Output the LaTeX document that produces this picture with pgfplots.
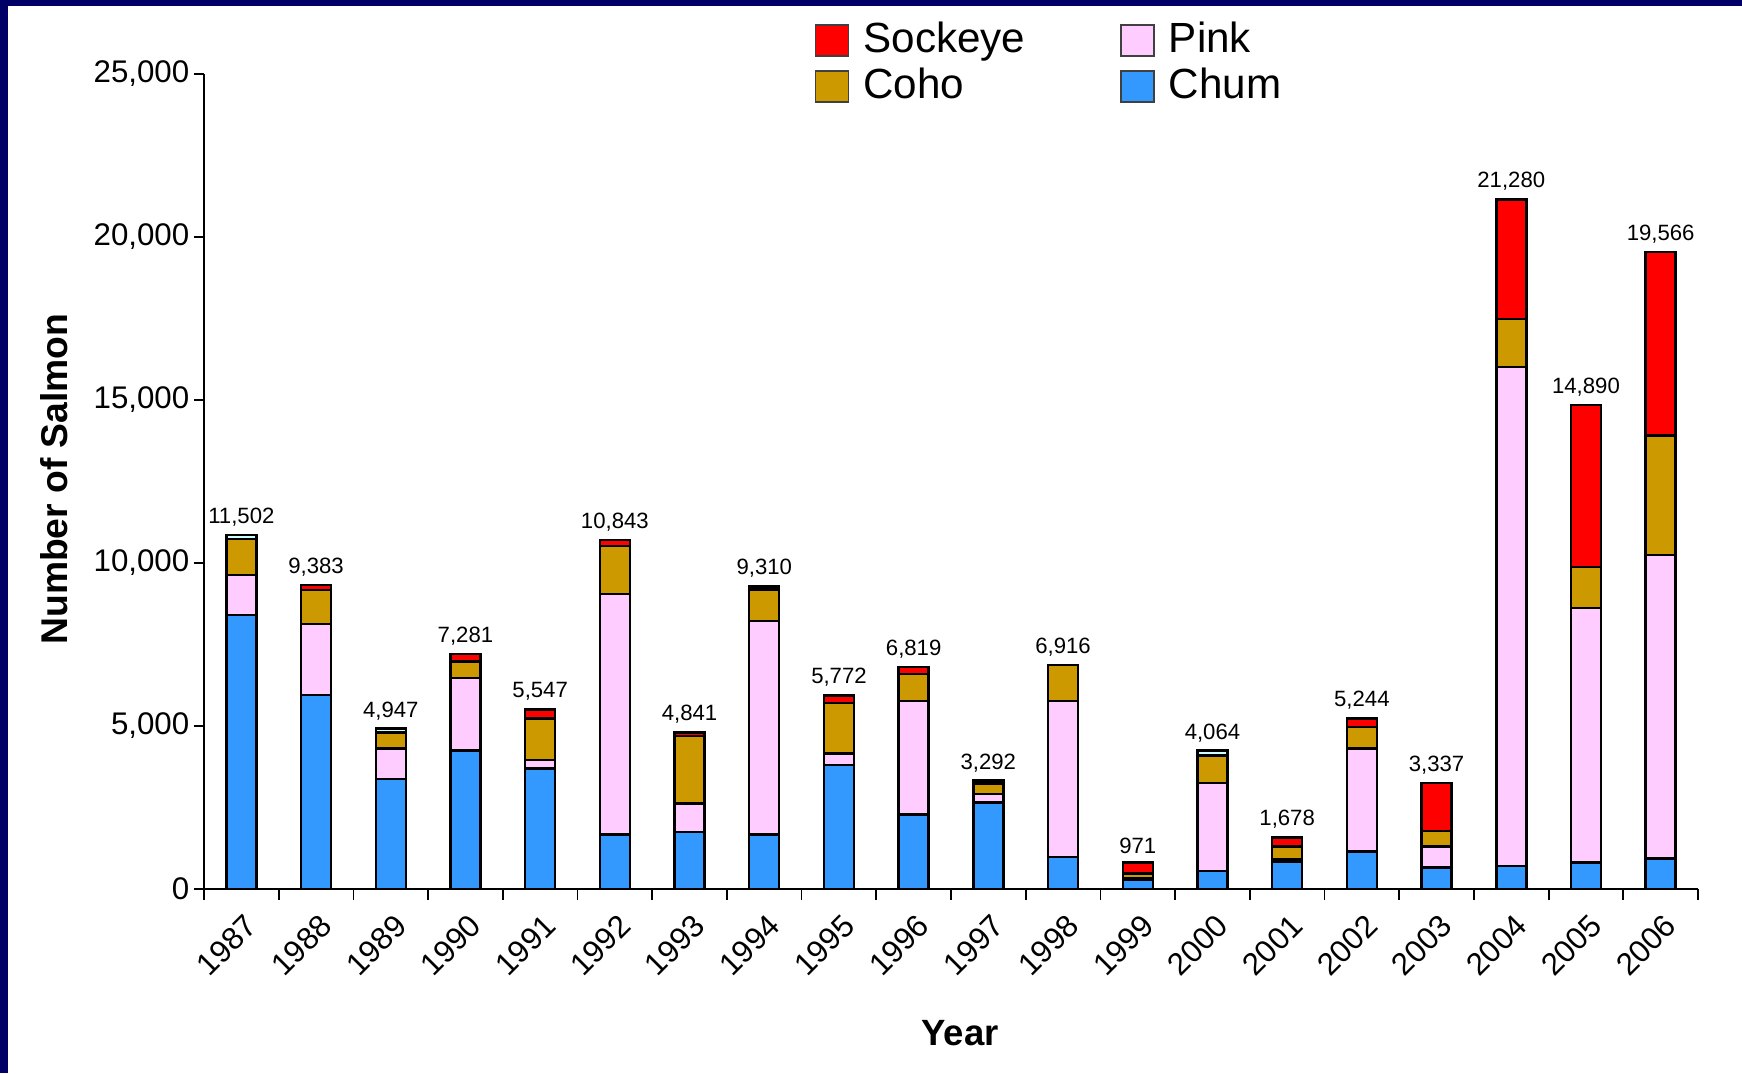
\documentclass[border=0pt]{standalone}
\usepackage{fontspec}
\setmainfont{Liberation Sans}
\usepackage{pgfplots}
\usepackage{pgfplotstable}
\pgfplotsset{compat=1.18}
\definecolor{sockred}{HTML}{FF0000}
\definecolor{pinkc}{HTML}{FFCCFF}
\definecolor{cohoc}{HTML}{CC9900}
\definecolor{chumc}{HTML}{3399FF}
\definecolor{cyanc}{HTML}{CCFFFF}
\definecolor{navyb}{HTML}{000066}

\pgfplotstableread{
x chum pink coho sock cyan tiny label
0 8404 1236 1095 0 123 1 11,502
1 5950 2187 1033 163 0 1 9,383
2 3383 932 480 0 122 1 4,947
3 4242 2239 502 234 0 1 7,281
4 3702 254 1268 287 0 1 5,547
5 1678 7370 1482 174 0 1 10,843
6 1748 869 2075 114 0 1 4,841
7 1678 6551 963 91 0 1 9,310
8 3812 350 1541 236 0 1 5,772
9 2279 3496 819 224 0 1 6,819
10 2659 255 328 80 0 1 3,292
11 981 4794 1095 0 0 1 6,916
12 297 20 164 326 0 1 971
13 561 2699 840 0 142 1 4,064
14 850 79 381 275 0 1 1,678
15 1144 3169 660 264 0 1 5,244
16 660 646 469 1482 0 1 3,337
17 704 15316 1467 3667 0 1 21,280
18 807 7819 1247 4973 0 1 14,890
19 939 9301 3667 5633 0 1 19,566
}\salmon

\begin{document}
\begin{tikzpicture}
\fill[white] (0,0) rectangle (17.42,10.73);
\fill[navyb] (0,0) rectangle (0.08,10.73);
\fill[navyb] (0,10.67) rectangle (17.42,10.73);
\useasboundingbox (0,0) rectangle (17.42,10.73);
\begin{axis}[
  at={(2.04cm,1.84cm)}, anchor=south west,
  scale only axis, width=14.94cm, height=8.15cm,
  ybar stacked, bar width=0.30cm,
  xmin=-0.5, xmax=19.5, ymin=0, ymax=25000,
  axis x line*=bottom, axis y line*=left,
  axis line style={black, line width=0.6pt},
  tick align=outside,
  xtick={0,...,19},
  xticklabels={1987,1988,1989,1990,1991,1992,1993,1994,1995,1996,1997,1998,1999,2000,2001,2002,2003,2004,2005,2006},
  major x tick style={draw=none},
  minor xtick={-0.5,0.5,...,19.5},
  minor tick length=0.11cm,
  major tick length=0.1cm,
  tick style={black, line width=0.5pt},
  ytick={0,5000,10000,15000,20000,25000},
  scaled y ticks=false,
  /pgf/number format/.cd, 1000 sep={,}, assume math mode=true, /pgfplots/.cd,
  tick label style={font=\fontsize{8.9}{10}\selectfont},
  yticklabel style={inner sep=0pt, xshift=-0.04cm},
  xticklabel style={xshift=0.105cm, yshift=-0.21cm, rotate=45, anchor=east, inner sep=0pt},
  xlabel={Year},
  ylabel={Number of Salmon},
  x label style={font=\fontsize{10.4}{12}\bfseries, at={(axis description cs:0.506,-0.1767)}, anchor=center},
  y label style={font=\fontsize{10.6}{12}\bfseries, at={(axis description cs:-0.1004,0.503)}, anchor=center},
  sqlegend/.style={legend image code/.code={\filldraw[##1, draw=black!75, line width=0.5pt] (0cm,-0.155cm) rectangle (0.33cm,0.155cm);}},
  legend columns=2,
  legend style={at={(rel axis cs:0.4083,1.0642)}, anchor=north west, draw=none, fill=none,
    inner sep=0pt, font=\fontsize{12}{14}\selectfont, row sep=0.1cm,
    nodes={inner sep=0pt},
    /tikz/every odd column/.append style={column sep=0.14cm},
    /tikz/every even column/.append style={column sep=0.95cm}},
  legend cell align=left,
]
\addlegendimage{sqlegend, fill=sockred}
\addlegendimage{sqlegend, fill=pinkc}
\addlegendimage{sqlegend, fill=cohoc}
\addlegendimage{sqlegend, fill=chumc}
\legend{Sockeye, Pink, Coho, Chum}
\addplot[forget plot, fill=chumc, draw=black, line width=0.7pt] table[x=x, y=chum] {\salmon};
\addplot[forget plot, fill=pinkc, draw=black, line width=0.7pt] table[x=x, y=pink] {\salmon};
\addplot[forget plot, fill=cohoc, draw=black, line width=0.7pt] table[x=x, y=coho] {\salmon};
\addplot[forget plot, fill=sockred, draw=black, line width=0.7pt] table[x=x, y=sock] {\salmon};
\addplot[forget plot, fill=cyanc, draw=black, line width=0.7pt] table[x=x, y=cyan] {\salmon};
\addplot[forget plot, draw=none, fill=none,
  nodes near coords, point meta=explicit symbolic,
  nodes near coords style={text=black, font=\fontsize{6.3}{7}\selectfont, anchor=south, inner sep=0pt, yshift=0.08cm}]
  table[x=x, y=tiny, meta=label] {\salmon};
\end{axis}
\end{tikzpicture}
\end{document}
